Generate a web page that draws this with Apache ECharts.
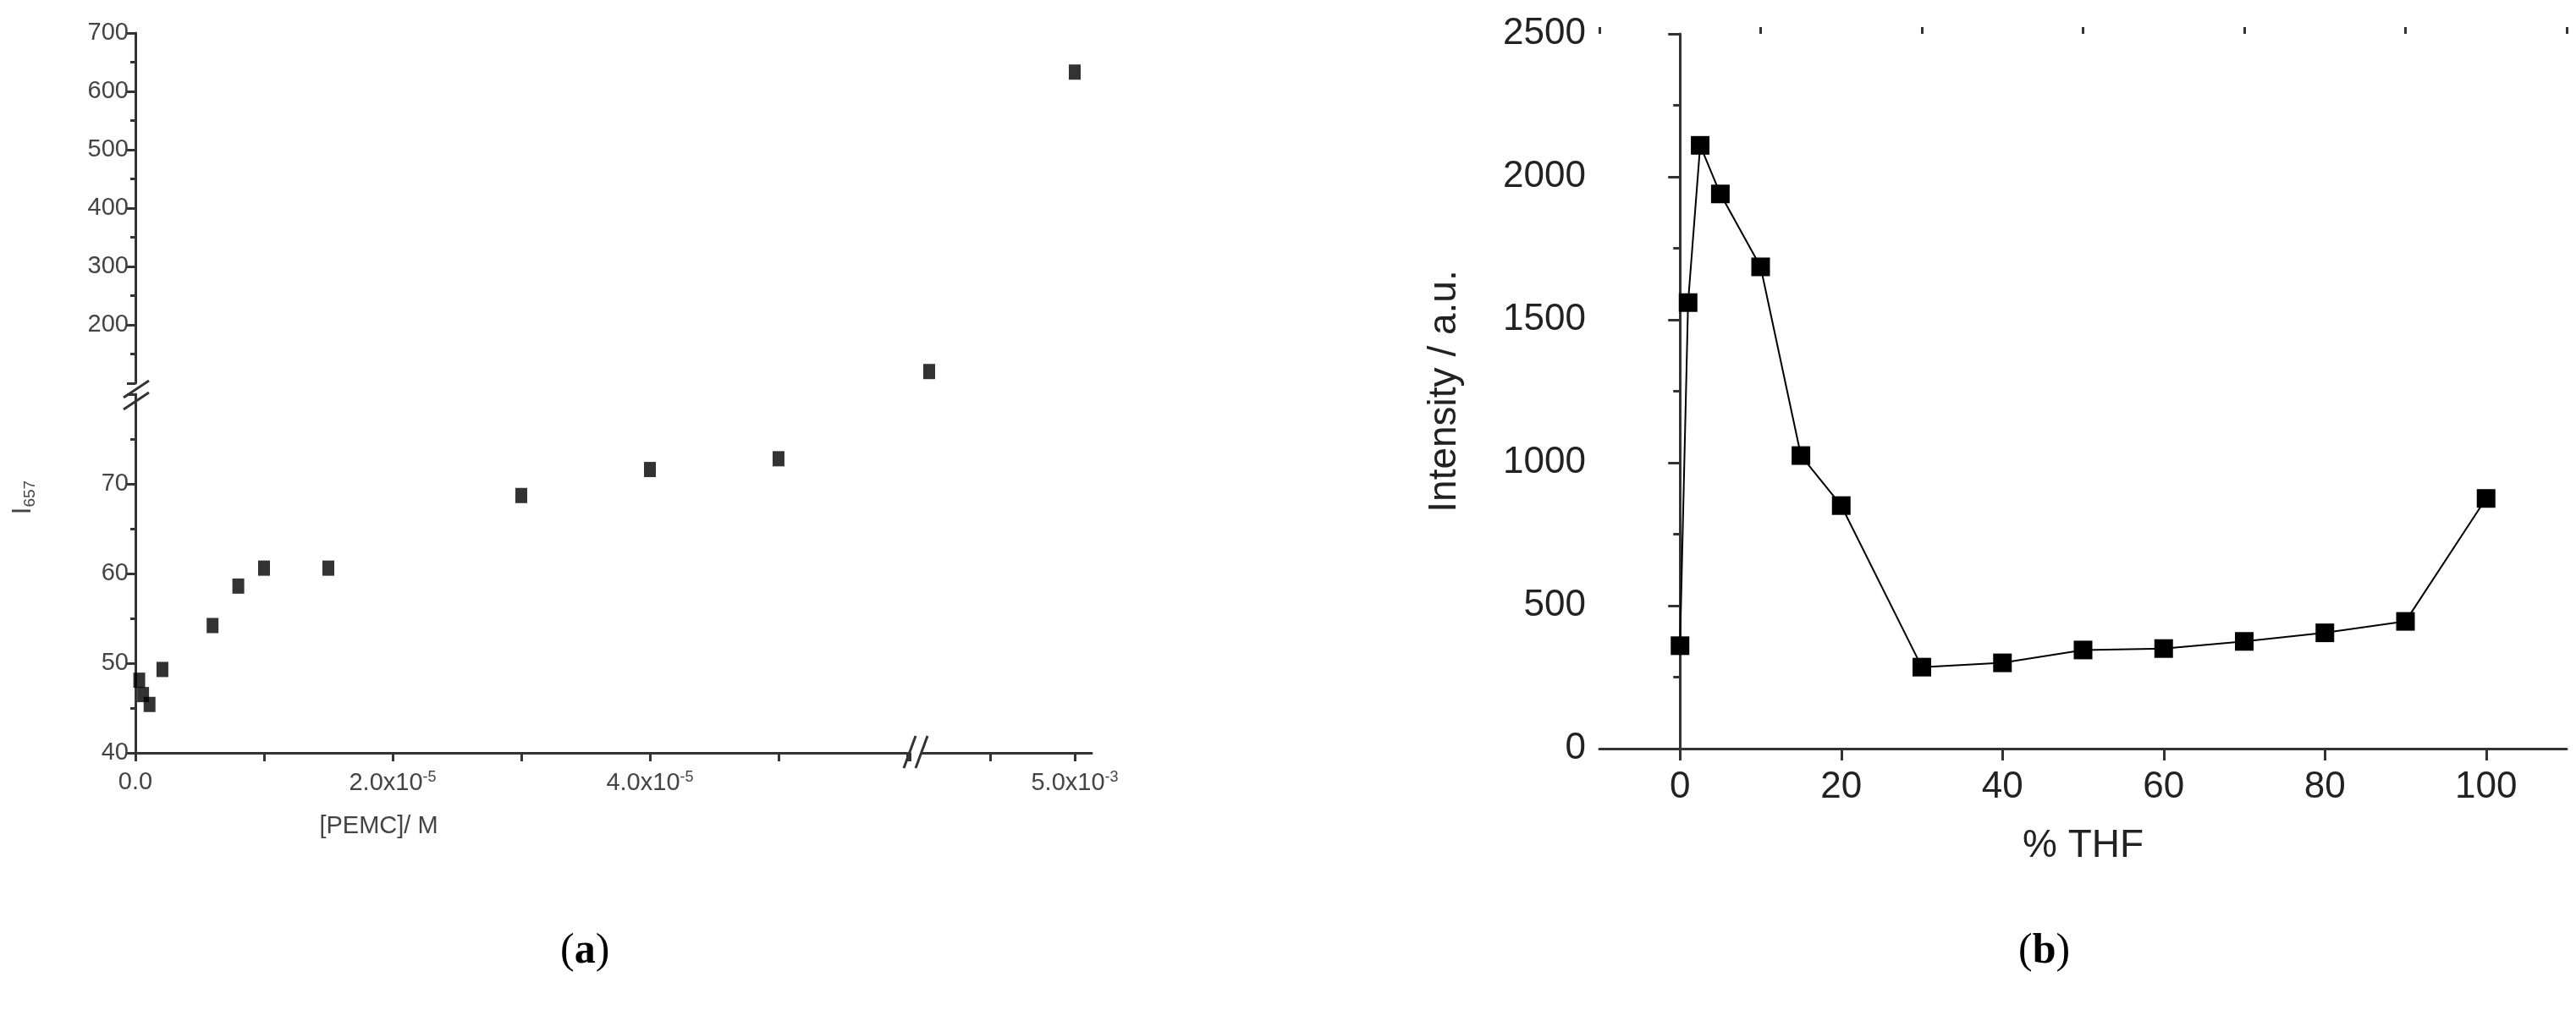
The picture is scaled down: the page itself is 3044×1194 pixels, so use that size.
<!DOCTYPE html>
<html>
<head>
<meta charset="UTF-8">
<title>PEMC</title>
<script src="https://cdn.jsdelivr.net/npm/echarts@6/dist/echarts.min.js"></script>
<style>html,body{margin:0;background:#fff}</style>
</head>
<body>
<div id="main" style="width:3044px;height:1194px;"></div>
<script>
// panel (a): concentration vs I657, low range and high (after the axis breaks)
var concLow = [3e-7, 6e-7, 1.1e-6, 2.1e-6, 6e-6, 8e-6, 1.0e-5, 1.5e-5, 3.0e-5, 4.0e-5, 5.0e-5];
var iLow = [48.1, 46.5, 45.4, 49.3, 54.2, 58.6, 60.6, 60.6, 68.7, 71.6, 72.8];
var concHigh = [4.14e-3, 5.0e-3];
var iHigh = [120, 633];
// panel (b)
var thf = [0, 1, 2.5, 5, 10, 15, 20, 30, 40, 50, 60, 70, 80, 90, 100];
var intensity = [360, 1560, 2110, 1940, 1685, 1025, 850, 285, 300, 345, 350, 375, 405, 445, 875];
var xLowLabels = [0, 2e-5, 4e-5];
var xHighLabels = [5e-3];
var thfLabels = [0, 20, 40, 60, 80, 100];
var thfMinor = [-10, 10, 30, 50, 70, 90, 110];

var axisCol = '#333';
var lab = {color: '#444', fontFamily: 'Liberation Sans', fontSize: 29};
function sci(v) {
  if (Math.abs(v) < 1e-12) return '0.0';
  var e = Math.floor(Math.log10(v) + 1e-9);
  var m = (v / Math.pow(10, e)).toFixed(1);
  return m + 'x10{s|' + e + '}';
}
var rich = {s: {fontSize: 18, verticalAlign: 'top', padding: [0, 0, 14, 0], color: '#444'}};
var line = {show: true, lineStyle: {color: axisCol, width: 3}};
var tick = {show: true, length: 10, lineStyle: {color: axisCol, width: 3}};
var minor = {show: true, splitNumber: 2, length: 6, lineStyle: {color: axisCol, width: 3}};
var bLab = {color: '#222', fontFamily: 'Liberation Sans', fontSize: 44};

var option = {
  backgroundColor: '#fff',
  animation: false,
  grid: [
    {left: 160, top: 466, width: 915, height: 424, outerBoundsMode: 'none'},
    {left: 160, top: 39, width: 915, height: 414, outerBoundsMode: 'none'},
    {left: 1090, top: 466, width: 200, height: 424, outerBoundsMode: 'none'},
    {left: 1090, top: 39, width: 200, height: 414, outerBoundsMode: 'none'},
    {left: 1890, top: 40, width: 1143, height: 845, outerBoundsMode: 'none'}
  ],
  xAxis: [
    {gridIndex: 0, type: 'value', min: 0, max: 6.02e-5, interval: 1e-5,
     axisLine: line, axisTick: tick, splitLine: {show: false},
     axisLabel: Object.assign({customValues: xLowLabels, margin: 20, rich: rich, formatter: sci}, lab),
     name: '[PEMC]/ M', nameLocation: 'middle', nameGap: 72,
     nameTextStyle: {color: '#444', fontFamily: 'Liberation Sans', fontSize: 29, padding: [0, 0, 0, -340]}},
    {gridIndex: 1, type: 'value', min: 0, max: 6.02e-5, show: false},
    {gridIndex: 2, type: 'value', min: 4.1e-3, max: 5.1e-3,
     axisLine: line, axisTick: Object.assign({customValues: [4.5e-3, 5e-3]}, tick), splitLine: {show: false},
     axisLabel: Object.assign({customValues: xHighLabels, margin: 20, rich: rich, formatter: sci}, lab)},
    {gridIndex: 3, type: 'value', min: 4.1e-3, max: 5.1e-3, show: false},
    {gridIndex: 4, type: 'value', min: -10, max: 110,
     axisLine: line, axisTick: Object.assign({customValues: thfLabels}, tick, {length: 14}),
     splitLine: {show: false},
     axisLabel: Object.assign({customValues: thfLabels, margin: 24}, bLab),
     name: '% THF', nameLocation: 'middle', nameGap: 92,
     nameTextStyle: {color: '#222', fontFamily: 'Liberation Sans', fontSize: 46}},
    // minor ticks of the % THF axis
    {gridIndex: 4, type: 'value', min: -10, max: 110, axisLine: {show: false}, splitLine: {show: false},
     axisLabel: {show: false}, axisTick: Object.assign({customValues: thfMinor}, tick, {length: 8})}
  ],
  yAxis: [
    {gridIndex: 0, type: 'value', min: 40, max: 80, interval: 10,
     axisLine: line, axisTick: tick, minorTick: minor, splitLine: {show: false},
     axisLabel: Object.assign({formatter: function (v) { return v >= 80 ? '' : v; }}, lab),
     name: '{i|I}{sb|657}', nameLocation: 'middle', nameGap: 115,
     nameTextStyle: {padding: [0, 0, 0, 180], rich: {i: {fontSize: 31, color: '#444', fontFamily: 'Liberation Sans'},
                      sb: {fontSize: 19, color: '#444', verticalAlign: 'bottom', padding: [16, 0, 0, 0], fontFamily: 'Liberation Sans'}}}},
    {gridIndex: 1, type: 'value', min: 100, max: 700, interval: 100,
     axisLine: line, axisTick: tick, minorTick: minor, splitLine: {show: false},
     axisLabel: Object.assign({formatter: function (v) { return v <= 100 ? '' : v; }}, lab)},
    {gridIndex: 2, type: 'value', min: 40, max: 80, show: false},
    {gridIndex: 3, type: 'value', min: 100, max: 700, show: false},
    {gridIndex: 4, type: 'value', min: 0, max: 2500, interval: 500,
     axisLine: line, axisTick: Object.assign({}, tick, {length: 14}), minorTick: Object.assign({}, minor, {length: 8}),
     splitLine: {show: false},
     axisLabel: Object.assign({margin: 16, formatter: function (v) { return String(v); }}, bLab),
     name: 'Intensity / a.u.', nameLocation: 'middle', nameGap: 160,
     nameTextStyle: {color: '#222', fontFamily: 'Liberation Sans', fontSize: 46}}
  ],
  series: [
    {type: 'scatter', xAxisIndex: 0, yAxisIndex: 0, symbol: 'rect', symbolSize: [14, 18],
     itemStyle: {color: '#000'}, data: concLow.map(function (c, i) { return [c, iLow[i]]; })},
    {type: 'scatter', xAxisIndex: 3, yAxisIndex: 3, symbol: 'rect', symbolSize: [14, 18],
     itemStyle: {color: '#000'}, data: concHigh.map(function (c, i) { return [c, iHigh[i]]; })},
    {type: 'line', xAxisIndex: 4, yAxisIndex: 4, symbol: 'rect', symbolSize: 22,
     lineStyle: {color: '#000', width: 2}, itemStyle: {color: '#000'},
     data: thf.map(function (t, i) { return [t, intensity[i]]; })}
  ],
  graphic: [
    // axis break marks
    {type: 'line', shape: {x1: 146, y1: 470, x2: 176, y2: 450}, style: {stroke: axisCol, lineWidth: 3}},
    {type: 'line', shape: {x1: 146, y1: 480, x2: 176, y2: 460}, style: {stroke: '#fff', lineWidth: 6}},
    {type: 'line', shape: {x1: 146, y1: 484, x2: 176, y2: 464}, style: {stroke: axisCol, lineWidth: 3}},
    {type: 'line', shape: {x1: 1068, y1: 908, x2: 1082, y2: 870}, style: {stroke: axisCol, lineWidth: 3}},
    {type: 'line', shape: {x1: 1082, y1: 908, x2: 1096, y2: 870}, style: {stroke: axisCol, lineWidth: 3}},
    {type: 'text', left: 662, top: 1100, style: {text: '({a|a})', fill: '#000', fontFamily: 'Liberation Serif', fontSize: 50,
      rich: {a: {fontWeight: 'bold', fontSize: 50, fontFamily: 'Liberation Serif'}}}},
    {type: 'text', left: 2385, top: 1100, style: {text: '({a|b})', fill: '#000', fontFamily: 'Liberation Serif', fontSize: 50,
      rich: {a: {fontWeight: 'bold', fontSize: 50, fontFamily: 'Liberation Serif'}}}}
  ]
};
echarts.init(document.getElementById('main')).setOption(option);
</script>
</body>
</html>
